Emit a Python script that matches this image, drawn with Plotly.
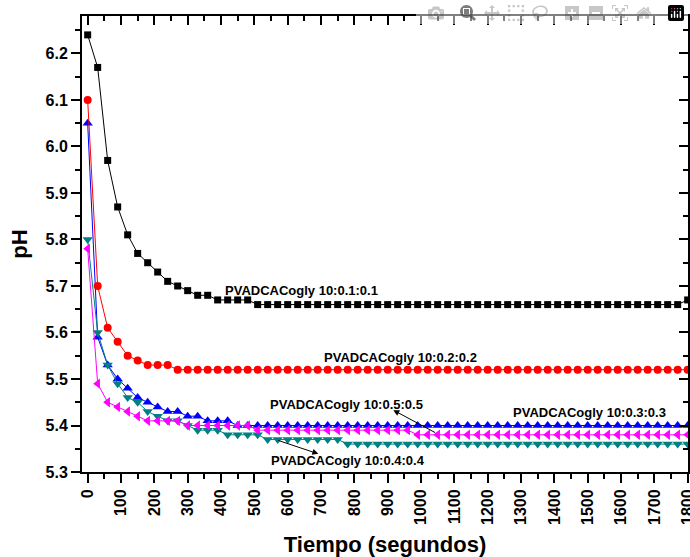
import plotly.graph_objects as go

# ---- data (time in s, pH) ----
time_s = list(range(0, 1801, 30))

ph_01 = [6.24, 6.17, 5.97, 5.87, 5.81, 5.77, 5.75, 5.73, 5.71, 5.70,
         5.69, 5.68, 5.68, 5.67, 5.67, 5.67, 5.67] + [5.66] * 43 + [5.67]
ph_02 = [6.10, 5.70, 5.61, 5.58, 5.55, 5.54, 5.53, 5.53, 5.53] + [5.52] * 52
ph_03 = [6.05, 5.59, 5.53, 5.50, 5.48, 5.46, 5.45, 5.44, 5.43, 5.43,
         5.42, 5.42, 5.41, 5.41, 5.41] + [5.40] * 46
ph_04 = [5.80, 5.60, 5.53, 5.49, 5.46, 5.45, 5.43, 5.42, 5.41, 5.41,
         5.40, 5.39, 5.39, 5.39, 5.38, 5.38, 5.38, 5.38] + [5.37] * 8 + [5.36] * 35
ph_05 = [5.78, 5.49, 5.45, 5.44, 5.43, 5.42, 5.41, 5.41, 5.41, 5.41,
         5.40, 5.40, 5.40, 5.40, 5.40, 5.40, 5.40] + [5.39] * 16 + [5.38] * 28

series_names = ["PVADCACogly 10:0.1:0.1", "PVADCACogly 10:0.2:0.2",
                "PVADCACogly 10:0.3:0.3", "PVADCACogly 10:0.4:0.4",
                "PVADCACogly 10:0.5:0.5"]
series_values = [ph_01, ph_02, ph_03, ph_04, ph_05]
colors = ["#000000", "#ff0000", "#0000ff", "#008080", "#ff00ff"]
symbols = ["square", "circle", "triangle-up", "triangle-down", "triangle-left"]
sizes = [7, 8, 9, 9, 9]
axes_for = [("x2", "y"), ("x", "y2"), ("x", "y"), ("x", "y"), ("x", "y")]

x_ticks = list(range(0, 1801, 100))
X_RANGE = [-17, 1801]
Y_RANGE = [5.3, 6.2806]

fig = go.Figure()
for name, vals, c, s, sz, (xa, ya) in zip(series_names, series_values, colors,
                                          symbols, sizes, axes_for):
    fig.add_trace(go.Scatter(x=time_s, y=vals, mode="lines+markers", name=name,
                             xaxis=xa, yaxis=ya,
                             line=dict(color=c, width=1),
                             marker=dict(color=c, symbol=s, size=sz, line=dict(width=0)),
                             showlegend=False, cliponaxis=False))

FONT = "Liberation Sans, Arial, sans-serif"
label_font = dict(family=FONT, size=13, color="black", weight="bold")

labels = [(640, 5.691, series_names[0]), (937, 5.547, series_names[1]),
          (1504, 5.429, series_names[2]), (781, 5.324, series_names[3]),
          (775, 5.446, series_names[4])]
for lx, ly, txt in labels:
    fig.add_annotation(x=lx, y=ly, text=txt, showarrow=False, font=label_font,
                       xref="x", yref="y")

arrows = [((917, 5.433), (1047, 5.383)), ((692, 5.339), (567, 5.369))]
for (hx, hy), (tx, ty) in arrows:
    fig.add_annotation(x=hx, y=hy, ax=tx, ay=ty, xref="x", yref="y",
                       axref="x", ayref="y", text="", showarrow=True,
                       arrowhead=2, arrowsize=1.2, arrowwidth=1, arrowcolor="black")

tick_font = dict(family=FONT, size=16, color="black", weight="bold")
title_font = dict(family=FONT, size=22, color="black", weight="bold")

common = dict(showline=True, linewidth=2, linecolor="black", showgrid=False,
              zeroline=False, tickcolor="black", ticklen=9, tickwidth=2)

fig.update_layout(
    width=690, height=557, template="none",
    plot_bgcolor="white", paper_bgcolor="white",
    margin=dict(l=82, r=2, t=16, b=85),
    xaxis=dict(range=X_RANGE, tickvals=x_ticks, tickangle=-90, ticks="outside",
               tickfont=tick_font, ticklabeloverflow="allow", mirror=True,
               automargin=False,
               minor=dict(dtick=50, ticks="outside", ticklen=5, tickwidth=1.5,
                          tickcolor="black", showgrid=False),
               title=dict(text="Tiempo (segundos)", font=title_font, standoff=14),
               **common),
    yaxis=dict(range=Y_RANGE, dtick=0.1, tick0=5.3, tickformat=".1f",
               ticks="outside", tickfont=tick_font, mirror=True, automargin=False,
               minor=dict(dtick=0.05, ticks="outside", ticklen=5, tickwidth=1.5,
                          tickcolor="black", showgrid=False),
               title=dict(text="pH", font=title_font, standoff=12),
               **common),
    xaxis2=dict(range=X_RANGE, overlaying="x", side="top",
                tickvals=x_ticks, ticks="inside", showticklabels=False,
                minor=dict(dtick=50, ticks="inside", ticklen=5, tickwidth=1.5,
                           tickcolor="black", showgrid=False),
                **common),
    yaxis2=dict(range=Y_RANGE, overlaying="y", side="right",
                dtick=0.1, tick0=5.3, ticks="inside", showticklabels=False,
                minor=dict(dtick=0.05, ticks="inside", ticklen=5, tickwidth=1.5,
                           tickcolor="black", showgrid=False),
                **common),
)

fig.write_html("out.html",
               post_script="document.body.style.margin='0';"
                           "document.body.style.overflow='hidden';")
